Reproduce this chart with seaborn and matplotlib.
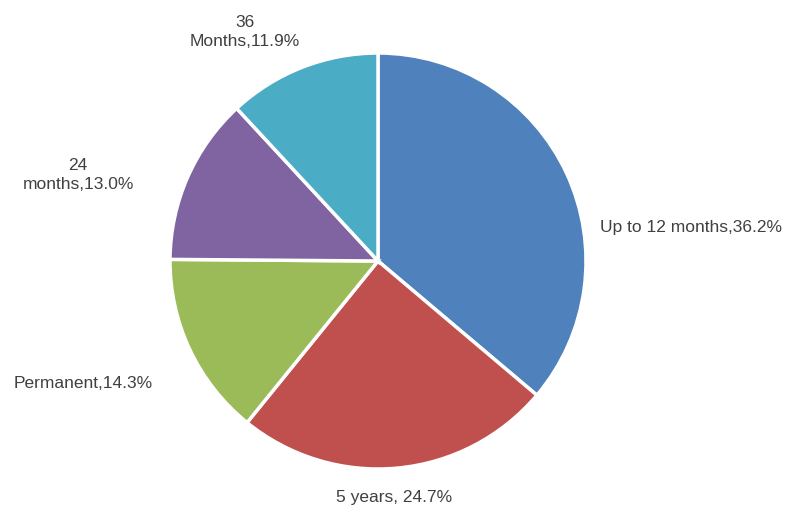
import matplotlib
matplotlib.use("Agg")
import matplotlib.pyplot as plt
import seaborn as sns

sns.set_theme(style="white")
plt.rcParams["font.family"] = ["Liberation Sans", "DejaVu Sans"]

# Share of contracts by duration
categories = ["Up to 12 months", "5 years", "Permanent", "24\nmonths", "36\nMonths"]
shares = [36.2, 24.7, 14.3, 13.0, 11.9]
label_text = ["Up to 12 months,36.2%", "5 years, 24.7%", "Permanent,14.3%",
              "24\nmonths,13.0%", "36\nMonths,11.9%"]
colors = ["#4F81BD", "#C0504D", "#9BBB59", "#8064A2", "#4BACC6"]

# label anchors (data units, pie radius = 1) and alignment
label_pos = [(1.067, 0.159), (0.077, -1.135), (-1.418, -0.587), (-1.442, 0.413), (-0.639, 1.101)]
label_ha = ["left", "center", "center", "center", "center"]

fig = plt.figure(figsize=(7.93, 5.08), dpi=100)
ax = fig.add_axes([0, 0, 1, 1])

ax.pie(shares, colors=colors, startangle=90, counterclock=False,
       wedgeprops={"edgecolor": "white", "linewidth": 2.5})

for txt, (x, y), ha in zip(label_text, label_pos, label_ha):
    ax.text(x, y, txt, ha=ha, va="center", fontsize=12.5, color="#404040",
            multialignment="center", linespacing=1.35)

ax.set_xlim(-378 / 208, (793 - 378) / 208)
ax.set_ylim(-(508 - 261) / 208, 261 / 208)
ax.set_aspect("auto")
ax.axis("off")

fig.savefig("out.png", dpi=100)
plt.close(fig)
